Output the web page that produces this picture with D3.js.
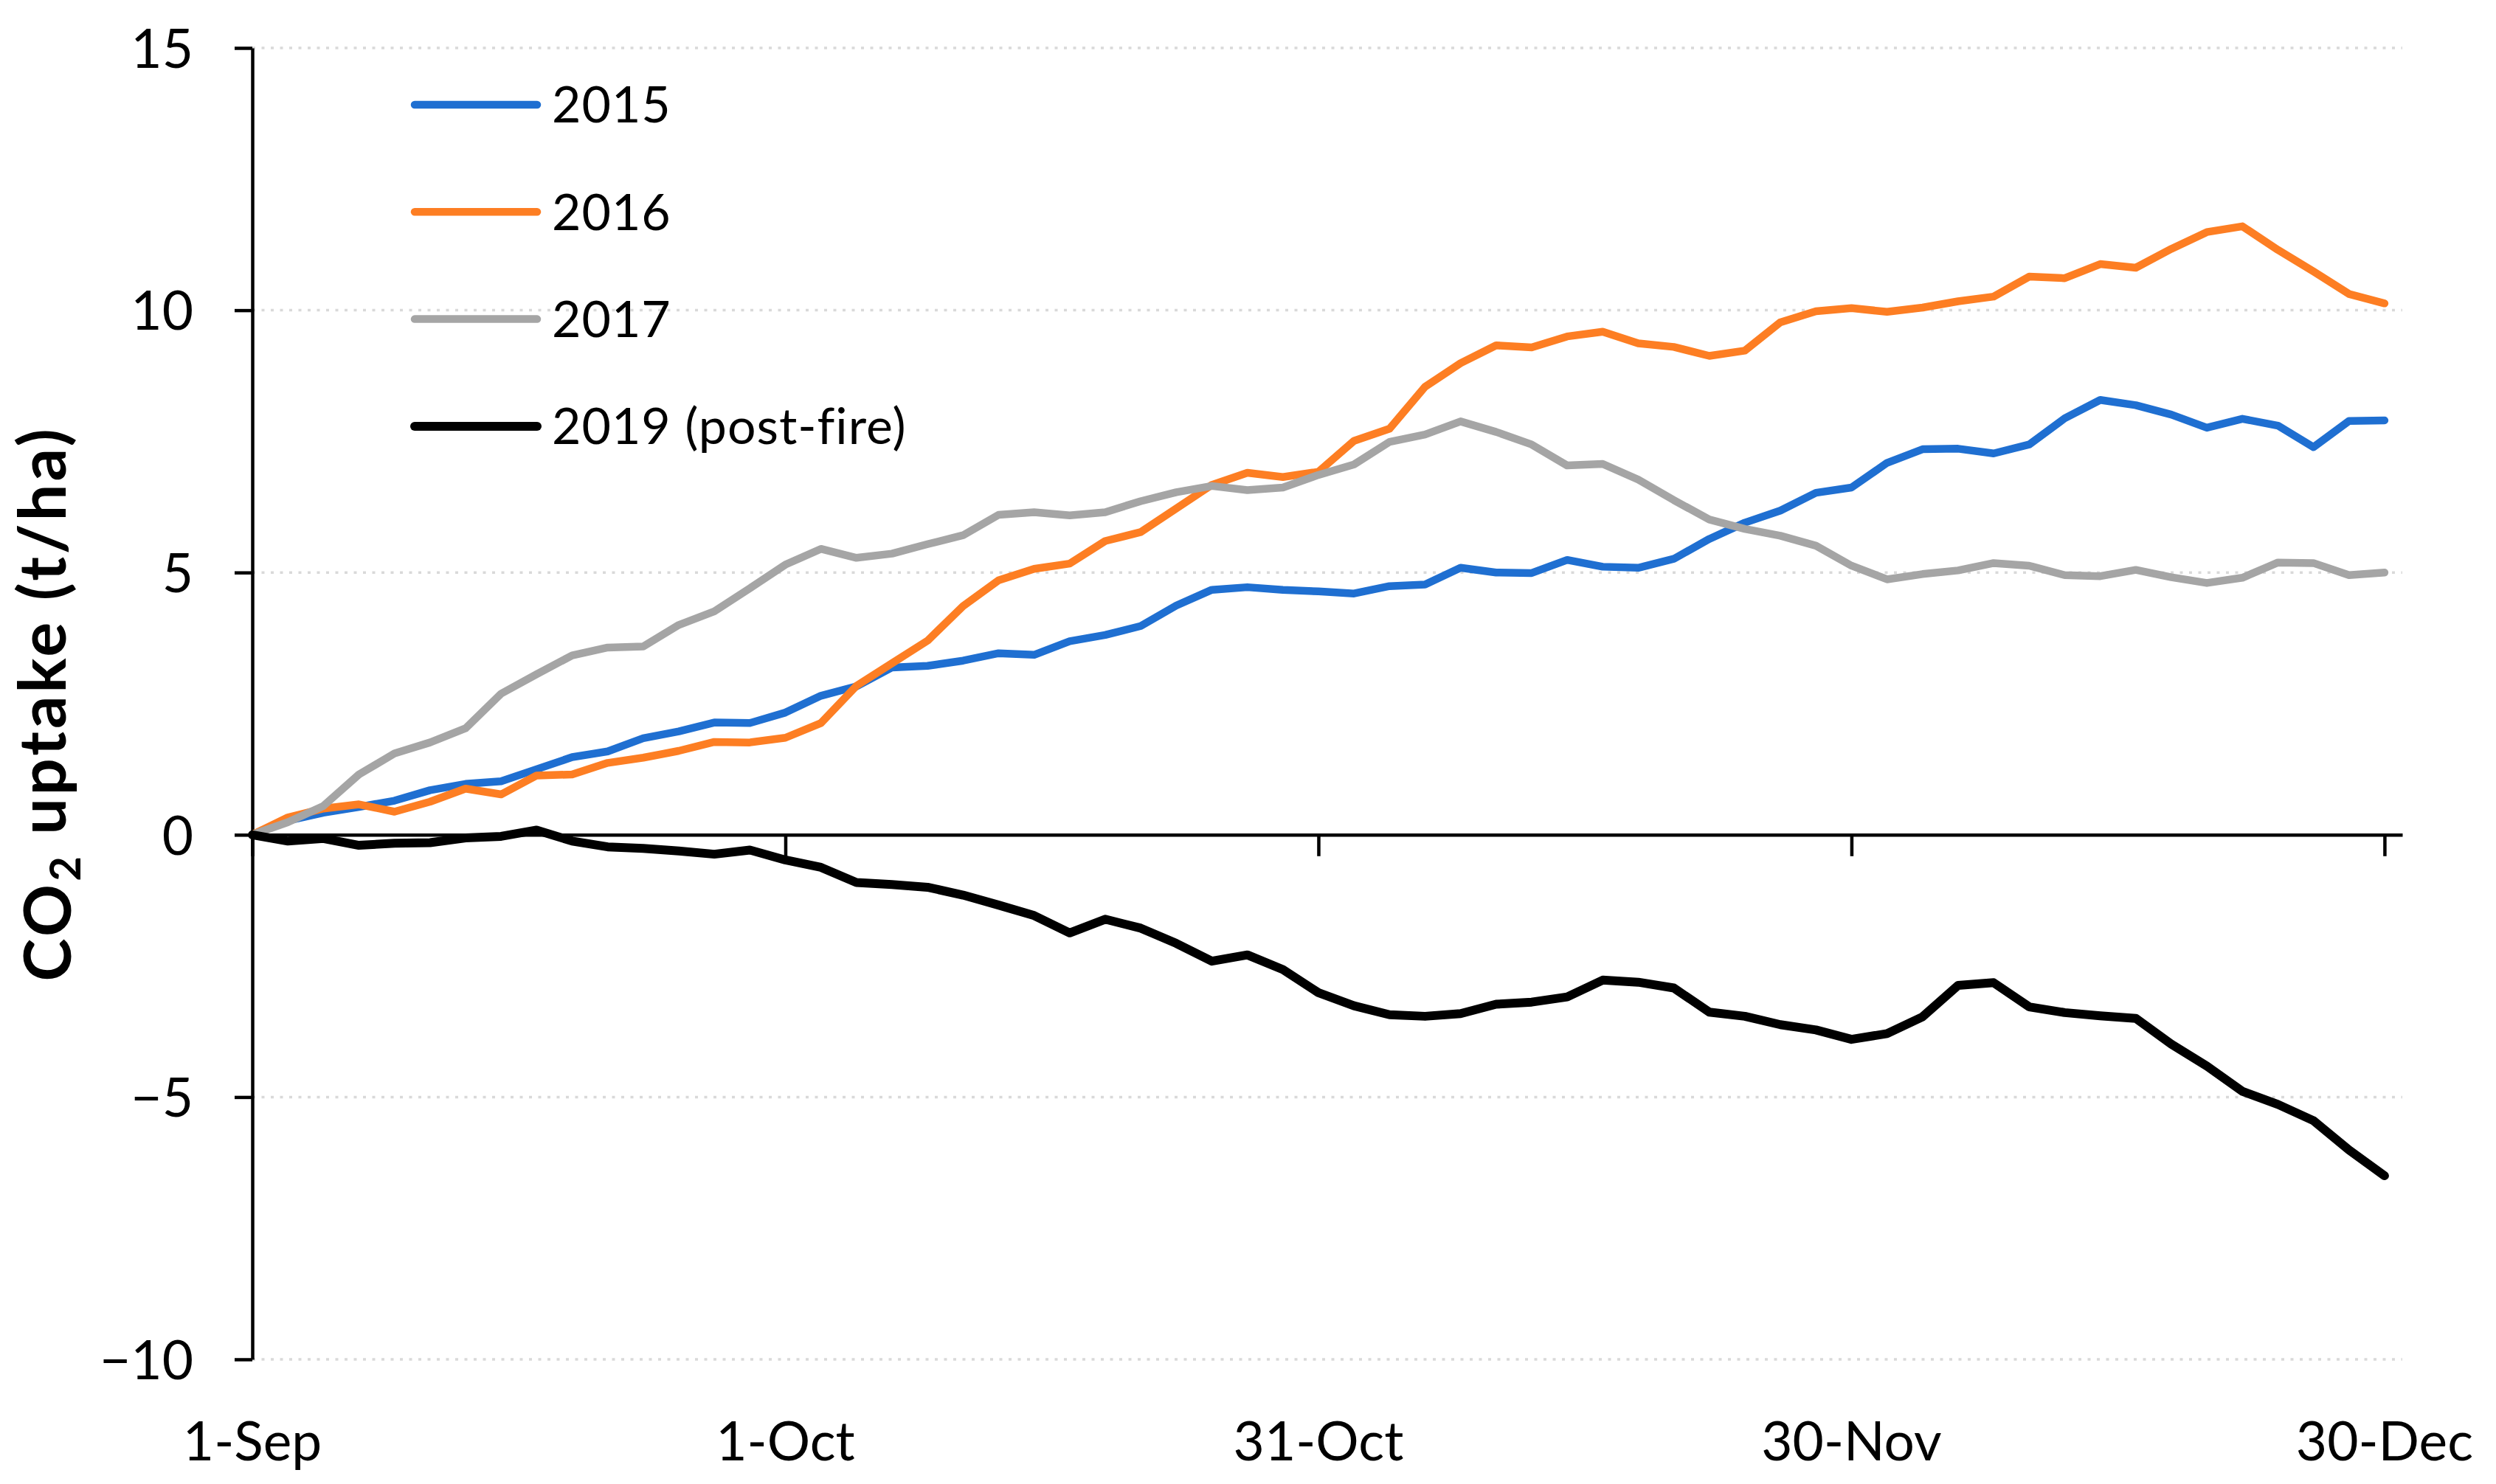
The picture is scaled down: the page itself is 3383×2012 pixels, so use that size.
<!DOCTYPE html>
<html>
<head>
<meta charset="utf-8">
<script src="https://cdn.jsdelivr.net/npm/d3@7"></script>
<style>
  body { margin: 0; background: #fff; }
  svg { display: block; }
  text { font-family: Lato, "Open Sans", sans-serif; fill: #000; }
</style>
</head>
<body>
<div id="chart-container"></div>
<script>
// days counted from 1-Sep
var days = [0, 2, 4, 6, 8, 10, 12, 14, 16, 18, 20, 22, 24, 26, 28, 30, 32, 34, 36, 38,
  40, 42, 44, 46, 48, 50, 52, 54, 56, 58, 60, 62, 64, 66, 68, 70, 72, 74, 76, 78,
  80, 82, 84, 86, 88, 90, 92, 94, 96, 98, 100, 102, 104, 106, 108, 110, 112, 114, 116, 118, 120];

var uptake_2015 = [0, 0.27, 0.42, 0.53, 0.65, 0.85, 0.97, 1.02, 1.25, 1.48, 1.59, 1.84, 1.97, 2.14, 2.13, 2.33, 2.65, 2.83, 3.19, 3.22,
  3.32, 3.46, 3.43, 3.69, 3.81, 3.98, 4.37, 4.67, 4.72, 4.67, 4.64, 4.6, 4.74, 4.77, 5.09, 5.0, 4.99, 5.24, 5.11, 5.09,
  5.26, 5.64, 5.95, 6.18, 6.52, 6.62, 7.09, 7.35, 7.36, 7.27, 7.44, 7.94, 8.29, 8.19, 8.01, 7.76, 7.93, 7.8, 7.39, 7.89, 7.9];

var uptake_2016 = [0, 0.33, 0.5, 0.58, 0.44, 0.63, 0.88, 0.77, 1.13, 1.15, 1.37, 1.47, 1.6, 1.77, 1.76, 1.85, 2.13, 2.84, 3.27, 3.7,
  4.36, 4.85, 5.07, 5.17, 5.6, 5.77, 6.22, 6.67, 6.9, 6.82, 6.92, 7.51, 7.74, 8.54, 8.99, 9.33, 9.29, 9.5, 9.59, 9.37,
  9.3, 9.13, 9.23, 9.77, 9.98, 10.04, 9.97, 10.05, 10.17, 10.26, 10.64, 10.61, 10.88, 10.81, 11.17, 11.49, 11.6, 11.15, 10.74, 10.31, 10.13];

var uptake_2017 = [0, 0.24, 0.55, 1.15, 1.55, 1.76, 2.03, 2.69, 3.06, 3.42, 3.57, 3.59, 4.0, 4.26, 4.7, 5.15, 5.45, 5.28, 5.36, 5.54,
  5.71, 6.1, 6.15, 6.09, 6.15, 6.36, 6.53, 6.65, 6.57, 6.62, 6.86, 7.06, 7.49, 7.63, 7.88, 7.68, 7.44, 7.04, 7.07, 6.77,
  6.38, 6.01, 5.83, 5.7, 5.51, 5.13, 4.87, 4.97, 5.04, 5.18, 5.13, 4.95, 4.93, 5.05, 4.91, 4.8, 4.9, 5.19, 5.18, 4.95, 5.0];

var uptake_2019 = [0, -0.12, -0.07, -0.2, -0.16, -0.15, -0.06, -0.03, 0.09, -0.12, -0.23, -0.26, -0.31, -0.37, -0.29, -0.48, -0.62, -0.91, -0.95, -1.0,
  -1.15, -1.34, -1.54, -1.87, -1.61, -1.78, -2.07, -2.41, -2.29, -2.57, -3.01, -3.26, -3.43, -3.46, -3.41, -3.23, -3.19, -3.09, -2.77, -2.81,
  -2.92, -3.38, -3.46, -3.62, -3.72, -3.9, -3.79, -3.47, -2.87, -2.82, -3.28, -3.39, -3.45, -3.5, -3.99, -4.41, -4.89, -5.14, -5.45, -6.01, -6.5];

var series_names = ["2015", "2016", "2017", "2019 (post-fire)"];
var series_values = [uptake_2015, uptake_2016, uptake_2017, uptake_2019];

var x_tick_days = [0, 30, 60, 90, 120];
var x_tick_labels = ["1-Sep", "1-Oct", "31-Oct", "30-Nov", "30-Dec"];
var y_ticks = [-10, -5, 0, 5, 10, 15];
var grid_values = [-10, -5, 5, 10, 15];

var colors = ["#1f6fd1", "#fd7e23", "#a5a5a5", "#000000"];
var widths = [10.5, 10.5, 10.5, 12];

var svg_width = 3383;
var svg_height = 2012;

var svg = d3.select("#chart-container")
  .append("svg")
  .attr("width", svg_width)
  .attr("height", svg_height);

var x = d3.scaleLinear().domain([0, 121]).range([342, 3256]);
var y = d3.scaleLinear().domain([-10, 15]).range([1843, 65]);

// dotted gridlines
svg.selectAll(".grid")
  .data(grid_values)
  .enter()
  .append("line")
  .attr("class", "grid")
  .attr("x1", x(0))
  .attr("x2", x(121))
  .attr("y1", function(d) { return y(d); })
  .attr("y2", function(d) { return y(d); })
  .attr("stroke", "#d9d9d9")
  .attr("stroke-width", 3.5)
  .attr("stroke-dasharray", "4,8.5");

// x axis along zero, ticks only
var x_axis = svg.append("g")
  .attr("transform", "translate(0," + y(0) + ")")
  .call(d3.axisBottom(x).tickValues(x_tick_days).tickSize(29).tickSizeOuter(0).tickFormat(""));
x_axis.select(".domain").attr("stroke", "#000").attr("stroke-width", 4.5);
x_axis.selectAll(".tick line").attr("stroke", "#000").attr("stroke-width", 4.5);

// x labels at bottom
svg.selectAll(".x-label")
  .data(x_tick_days)
  .enter()
  .append("text")
  .attr("class", "x-label")
  .attr("x", function(d) { return x(d); })
  .attr("y", 1980)
  .attr("text-anchor", "middle")
  .attr("font-size", "73px")
  .text(function(d, i) { return x_tick_labels[i]; });

// y axis
var y_axis = svg.append("g")
  .attr("transform", "translate(" + x(0) + ",0)")
  .call(d3.axisLeft(y).tickValues(y_ticks).tickSize(24).tickSizeOuter(0).tickPadding(56)
    .tickFormat(function(d) { return d < 0 ? "\u2212" + Math.abs(d) : d; }));
y_axis.select(".domain").attr("stroke", "#000").attr("stroke-width", 4.5);
y_axis.selectAll(".tick line").attr("stroke", "#000").attr("stroke-width", 4.5);
y_axis.selectAll(".tick text")
  .attr("font-size", "73px")
  .attr("font-family", "Lato, sans-serif")
  .attr("fill", "#000")
  .attr("dy", "0.36em");

// axis title
var title = svg.append("text")
  .attr("transform", "translate(96," + ((y(15) + y(-10)) / 2) + ") rotate(-90)")
  .attr("text-anchor", "middle")
  .attr("font-size", "88px")
  .attr("letter-spacing", "4px")
  .attr("font-weight", "bold");
title.append("tspan").text("CO");
title.append("tspan").attr("font-size", "58px").attr("dy", "0.22em").text("2");
title.append("tspan").attr("dy", "-0.22em").text(" uptake (t/ha)");

// lines
var line = d3.line()
  .x(function(d) { return x(d[0]); })
  .y(function(d) { return y(d[1]); });

svg.selectAll(".series")
  .data(series_values)
  .enter()
  .append("path")
  .attr("class", "series")
  .attr("d", function(vals) { return line(vals.map(function(v, i) { return [days[i], v]; })); })
  .attr("fill", "none")
  .attr("stroke", function(d, i) { return colors[i]; })
  .attr("stroke-width", function(d, i) { return widths[i]; })
  .attr("stroke-linejoin", "round")
  .attr("stroke-linecap", "round");

// legend
var legend = svg.selectAll(".legend")
  .data(series_names)
  .enter()
  .append("g")
  .attr("class", "legend")
  .attr("transform", function(d, i) { return "translate(0," + (142 + i * 145.3) + ")"; });

legend.append("line")
  .attr("x1", 562)
  .attr("x2", 728)
  .attr("y1", 0)
  .attr("y2", 0)
  .attr("stroke", function(d, i) { return colors[i]; })
  .attr("stroke-width", function(d, i) { return widths[i]; })
  .attr("stroke-linecap", "round");

legend.append("text")
  .attr("x", 748)
  .attr("y", 0)
  .attr("dy", "0.36em")
  .attr("font-size", "68px")
  .attr("letter-spacing", "1px")
  .text(function(d) { return d; });
</script>
</body>
</html>
